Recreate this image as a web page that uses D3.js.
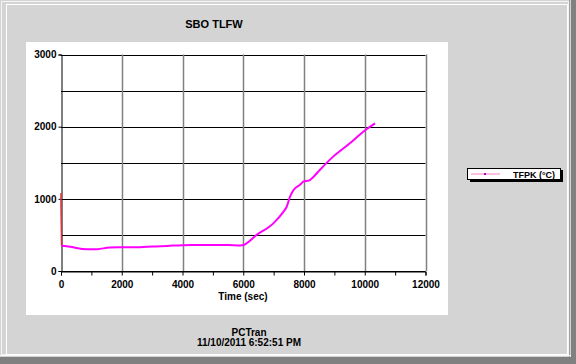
<!DOCTYPE html>
<html><head><meta charset="utf-8">
<script src="https://cdn.jsdelivr.net/npm/d3@7"></script>
<style>html,body{margin:0;padding:0;background:#d4d4d4;}svg{display:block;}text{font-family:Arial,"Liberation Sans",sans-serif;font-weight:bold;}</style>
</head><body><svg id="c" width="576" height="364"></svg>
<script>
const chartTitle = "SBO TLFW";
const xLabel = "Time (sec)";
const seriesName = "TFPK (°C)";
const footer = ["PCTran", "11/10/2011 6:52:51 PM"];
const xTicks = [0, 2000, 4000, 6000, 8000, 10000, 12000];
const yTicks = [0, 1000, 2000, 3000];
const spikeTime = [0, 0, 20];
const spikeVal = [1080, 900, 350];
const time = [20, 300, 700, 1000, 1200, 1600, 2000, 2600, 3000, 3500, 4000, 4500, 5000, 5500, 5900, 6000, 6440, 6990, 7320, 7430, 7540, 7650, 7870, 8000, 8140, 8300, 8520, 8960, 9510, 9950, 10340];
const temp = [350, 335, 305, 300, 302, 325, 328, 330, 340, 348, 358, 360, 360, 360, 355, 360, 500, 660, 820, 890, 1030, 1120, 1195, 1245, 1250, 1300, 1400, 1585, 1770, 1930, 2045];

const svg = d3.select("#c");
// window frame
svg.append("rect").attr("x",0).attr("y",0).attr("width",576).attr("height",364).attr("fill","#d4d4d4");
svg.append("rect").attr("x",1.5).attr("y",1.5).attr("width",567).attr("height",353).attr("fill","none").attr("stroke","#f4f4f4");
svg.append("rect").attr("x",6.5).attr("y",4.5).attr("width",561).attr("height",350).attr("fill","none").attr("stroke","#ffffff");
svg.append("rect").attr("x",571).attr("y",0).attr("width",5).attr("height",364).attr("fill","#808080");
svg.append("rect").attr("x",0).attr("y",357).attr("width",576).attr("height",7).attr("fill","#808080");
svg.append("line").attr("x1",569.5).attr("x2",569.5).attr("y1",0).attr("y2",357).attr("stroke","#a0a0a0");
svg.append("line").attr("x1",0).attr("x2",571).attr("y1",355.5).attr("y2",355.5).attr("stroke","#f8f8f8");

// white chart panel
svg.append("rect").attr("x",26).attr("y",42).attr("width",422).attr("height",273).attr("fill","#ffffff");

svg.append("text").attr("x",214).attr("y",28).attr("text-anchor","middle").attr("font-size",11).text(chartTitle);

const x = d3.scaleLinear().domain([0,12000]).range([61,425.5]);
const y = d3.scaleLinear().domain([0,3000]).range([271,54.5]);

// gridlines
const g = svg.append("g");
g.selectAll(".hg").data(d3.range(0,3001,500)).join("line")
 .attr("x1",x(0)).attr("x2",x(12000)).attr("y1",d=>Math.round(y(d))+0.5).attr("y2",d=>Math.round(y(d))+0.5)
 .attr("stroke","#000").attr("stroke-width",1);
g.selectAll(".vg").data(xTicks.slice(1)).join("line")
 .attr("x1",d=>Math.round(x(d))+0.5).attr("x2",d=>Math.round(x(d))+0.5).attr("y1",y(3000)).attr("y2",y(0))
 .attr("stroke","#808080").attr("stroke-width",1.5);

// axes
const xAxis = d3.axisBottom(x).tickValues(d3.range(0,12001,1000)).tickSize(4).tickFormat(d=> d%2000===0 ? d : "");
const ax = svg.append("g").attr("transform",`translate(0,${Math.round(y(0))+0.5})`).call(xAxis);
ax.select(".domain").attr("stroke","#000");
ax.selectAll(".tick line").attr("stroke","#000");
ax.selectAll(".tick text").attr("font-size",10).attr("font-family","Arial").attr("font-weight","bold").attr("fill","#000").attr("dy","0.9em");
const yAxis = d3.axisLeft(y).tickValues(yTicks).tickSize(3).tickFormat(d3.format("d"));
const ay = svg.append("g").attr("transform",`translate(${Math.round(x(0))+0.5},0)`).call(yAxis);
ay.select(".domain").attr("stroke","#000");
ay.selectAll(".tick line").attr("stroke","#000");
ay.selectAll(".tick text").attr("font-size",10).attr("font-family","Arial").attr("font-weight","bold").attr("fill","#000").attr("x",-5);

svg.append("text").attr("x",243).attr("y",300).attr("text-anchor","middle").attr("font-size",10).text(xLabel);

// data
const line = d3.line().x((d,i)=>x(d[0])).y(d=>y(d[1]));
svg.append("path").datum(spikeTime.map((t,i)=>[t,spikeVal[i]])).attr("d",line)
 .attr("fill","none").attr("stroke","#e0303c").attr("stroke-width",1.5);
const pts = time.map((t,i)=>[t,temp[i]]);
svg.append("path").datum(pts).attr("d",line.curve(d3.curveMonotoneX))
 .attr("fill","none").attr("stroke","#ff00ff").attr("stroke-width",2);

// legend
svg.append("rect").attr("x",470).attr("y",170).attr("width",93).attr("height",12).attr("fill","#000");
svg.append("rect").attr("x",467.5).attr("y",168.5).attr("width",93).attr("height",11).attr("fill","#fff").attr("stroke","#000");
svg.append("line").attr("x1",471).attr("x2",500).attr("y1",174).attr("y2",174).attr("stroke","#ff80c0").attr("stroke-width",1);
svg.append("rect").attr("x",484).attr("y",173).attr("width",2).attr("height",2).attr("fill","#c000c0");
svg.append("text").attr("x",513).attr("y",178).attr("font-size",9).text(seriesName);

// footer
svg.append("text").attr("x",249).attr("y",336).attr("text-anchor","middle").attr("font-size",10).text(footer[0]);
svg.append("text").attr("x",249).attr("y",346).attr("text-anchor","middle").attr("font-size",10).text(footer[1]);
</script></body></html>
